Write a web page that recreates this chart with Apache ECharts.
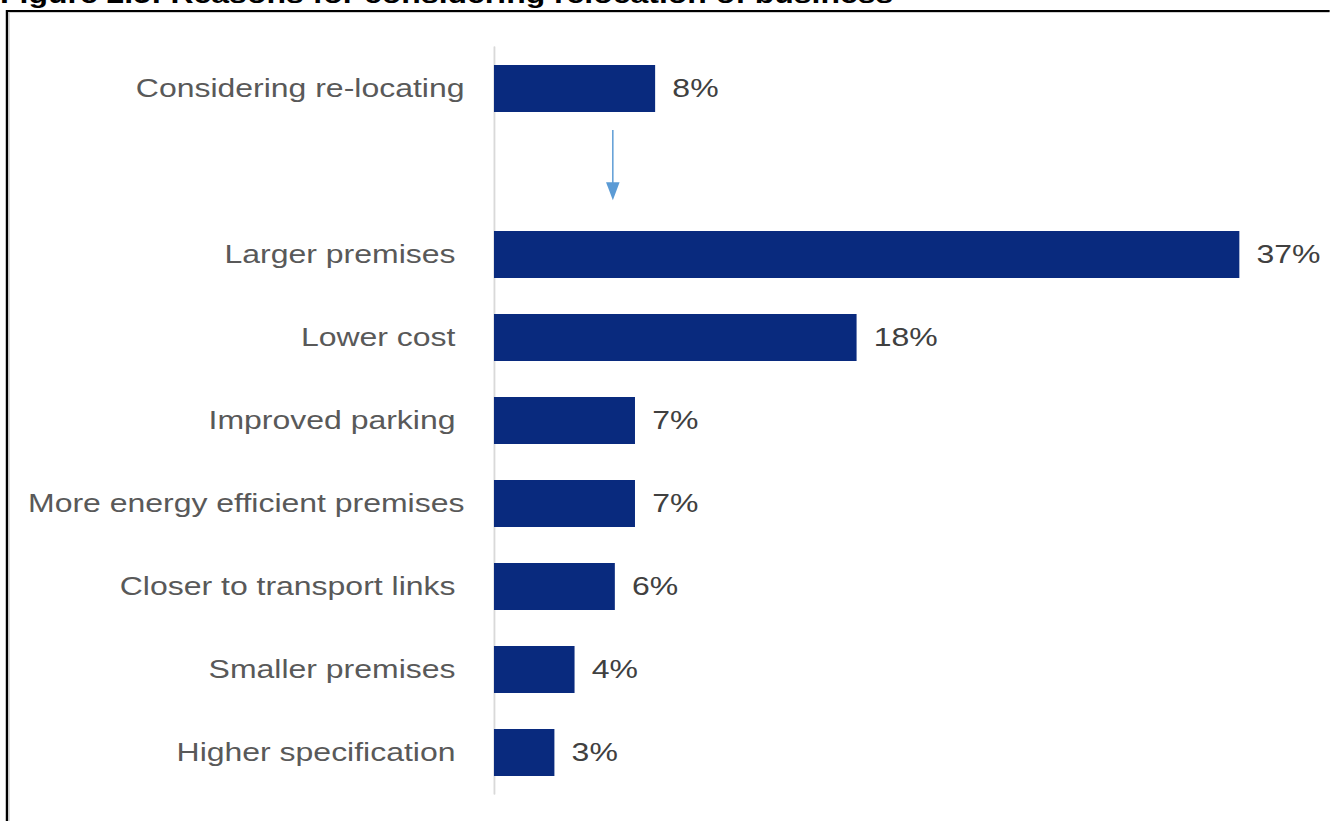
<!DOCTYPE html>
<html>
<head>
<meta charset="utf-8">
<script src="https://cdn.jsdelivr.net/npm/echarts@6/dist/echarts.min.js"></script>
<style>
  html, body { margin: 0; padding: 0; background: #fff; overflow: hidden; }
  #wrap { width: 1330px; height: 821px; overflow: hidden; position: relative; }
  /* the figure is drawn at a narrower width and widened horizontally */
  #chart { width: 1081px; height: 821px; transform: scaleX(1.23); transform-origin: 0 0; }
</style>
</head>
<body>
<div id="wrap"><div id="chart"></div></div>
<script>
// Reasons for considering relocation (share of businesses, %)
const categories = [
  'Considering re-locating',
  '',
  'Larger premises',
  'Lower cost',
  'Improved parking',
  'More energy efficient premises',
  'Closer to transport links',
  'Smaller premises',
  'Higher specification'
];
const values = [8, null, 37, 18, 7, 7, 6, 4, 3];
const titleText = 'Figure 2.5: Reasons for considering relocation of business';
// labels that sit flush against the axis margin (the rest carry a trailing gap)
const flushLabels = ['Considering re-locating', 'More energy efficient premises'];

const FONT = '"Liberation Sans", Arial, sans-serif';
const chart = echarts.init(document.getElementById('chart'), null, { renderer: 'svg' });

const option = {
  animation: false,
  backgroundColor: '#ffffff',
  title: {
    text: titleText,
    left: 0,
    top: -19,
    padding: 0,
    textStyle: { fontFamily: FONT, fontSize: 26, fontWeight: 'bold', color: '#000000' }
  },
  grid: { left: 401.6, right: 73.4, top: 47, bottom: 27, containLabel: false },
  xAxis: {
    type: 'value', min: 0, max: 37, show: false
  },
  yAxis: {
    type: 'category',
    inverse: true,
    data: categories.map(c => ({
      value: c,
      textStyle: { padding: [0, flushLabels.includes(c) ? 0 : 7.3, 0, 0] }
    })),
    axisLine: { show: true, lineStyle: { color: '#d9d9d9', width: 1.5 } },
    axisTick: { show: false },
    splitLine: { show: false },
    axisLabel: {
      margin: 24, fontFamily: FONT, fontSize: 26, color: '#595959'
    }
  },
  series: [{
    type: 'bar',
    data: values,
    barWidth: 47,
    itemStyle: { color: '#092a7e' },
    label: {
      show: true,
      position: 'right',
      distance: 14,
      formatter: p => p.value + '%',
      fontFamily: FONT, fontSize: 26, color: '#404040'
    }
  }]
};
chart.setOption(option);

// frame, and the arrow leading from the headline bar to the breakdown
function drawAnnotations() {
  const top = chart.convertToPixel({ yAxisIndex: 0 }, 0);
  const next = chart.convertToPixel({ yAxisIndex: 0 }, 1);
  const band = next - top;
  const ax = chart.convertToPixel({ xAxisIndex: 0 }, 5.9);
  const y0 = top + band / 2;
  const y1 = next + band * 0.345;
  const head = 18;
  chart.setOption({
    graphic: [
      { type: 'rect', silent: true, z: -1,
        shape: { x: 5.7, y: 11, width: 3000, height: 3000 },
        style: { fill: 'none', stroke: '#000000', lineWidth: 2 } },
      { type: 'rect', silent: true, z: -1,
        shape: { x: 7.4, y: 12.6, width: 3000, height: 3000 },
        style: { fill: 'none', stroke: '#d0d0d0', lineWidth: 1 } },
      { type: 'line', silent: true,
        shape: { x1: ax, y1: y0, x2: ax, y2: y1 - head + 2 },
        style: { stroke: '#5b9bd5', lineWidth: 1.2 } },
      { type: 'polygon', silent: true,
        shape: { points: [[ax - 5.5, y1 - head], [ax + 5.5, y1 - head], [ax, y1]] },
        style: { fill: '#5b9bd5' } }
    ]
  });
}
drawAnnotations();
</script>
</body>
</html>
